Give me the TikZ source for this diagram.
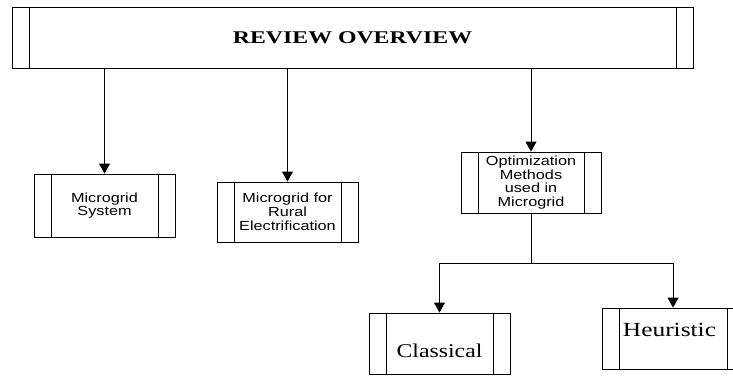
\documentclass[tikz,border=0pt]{standalone}
\usepackage{fontspec}
\usetikzlibrary{arrows.meta}
% Wide-set faces for the labels
\newfontfamily\labelsans[FakeStretch=1.23]{Liberation Sans}
\newfontfamily\labelserif[FakeStretch=1.22]{Liberation Serif}
\newfontfamily\heurserif[FakeStretch=1.27]{Liberation Serif}
\newfontfamily\titleserif[FakeStretch=1.33]{Liberation Serif}

\tikzset{
  procbox/.style={draw=black, line width=0.9pt, rectangle, inner sep=0pt, fill=white,
    path picture={
      \draw[line width=0.9pt]
        ([xshift=17pt]path picture bounding box.north west) --
        ([xshift=17pt]path picture bounding box.south west);
      \draw[line width=0.9pt]
        ([xshift=-17pt]path picture bounding box.north east) --
        ([xshift=-17pt]path picture bounding box.south east);
    }},
  link/.style={draw=black, line width=0.9pt},
  arrowlink/.style={link, -{Triangle[width=11pt,length=10pt]}},
  smalltext/.style={font=\labelsans\fontsize{13.2}{13.8}\selectfont, align=center},
  titletext/.style={font=\titleserif\bfseries\fontsize{17.9}{20}\selectfont},
}

\begin{document}
\begin{tikzpicture}[x=1pt,y=-1pt]
  \useasboundingbox (0,0) rectangle (733,376);

  % top-level box
  \node[procbox, titletext, minimum width=681pt, minimum height=61pt] (review)
    at (352.5,37.5) {REVIEW OVERVIEW};

  % second level
  \node[procbox, smalltext, minimum width=141pt, minimum height=63pt] (system)
    at (104.5,205.5) {Microgrid\\System};
  \node[procbox, smalltext, minimum width=141pt, minimum height=60pt] (rural)
    at (287.5,212) {Microgrid for\\Rural\\Electrification};
  \node[procbox, smalltext, minimum width=140pt, minimum height=61pt] (optim)
    at (531,182.5) {Optimization\\Methods\\used in\\Microgrid};

  % third level
  \node[procbox, minimum width=141pt, minimum height=61pt] (classical)
    at (439.5,343.5) {};
  \node[anchor=base, inner sep=0pt, font=\labelserif\fontsize{19.5}{22}\selectfont]
    (classical-label) at (439.5,357) {Classical};
  \node[procbox, minimum width=142pt, minimum height=61pt] (heuristic)
    at (673,338.5) {};
  \node[anchor=base, inner sep=0pt, font=\heurserif\fontsize{20}{22}\selectfont]
    (heuristic-label) at (669.5,336) {Heuristic};

  % connectors
  \draw[arrowlink] (review.south -| system.north) -- (system.north);
  \draw[arrowlink] (review.south -| rural.north) -- (rural.north);
  \draw[arrowlink] (review.south -| optim.north) -- (optim.north);

  \coordinate (split) at (531,263);
  \draw[link] (optim.south) -- (split);
  \draw[arrowlink] (split) -| (classical.north);
  \draw[arrowlink] (split) -| (heuristic.north);
\end{tikzpicture}
\end{document}
